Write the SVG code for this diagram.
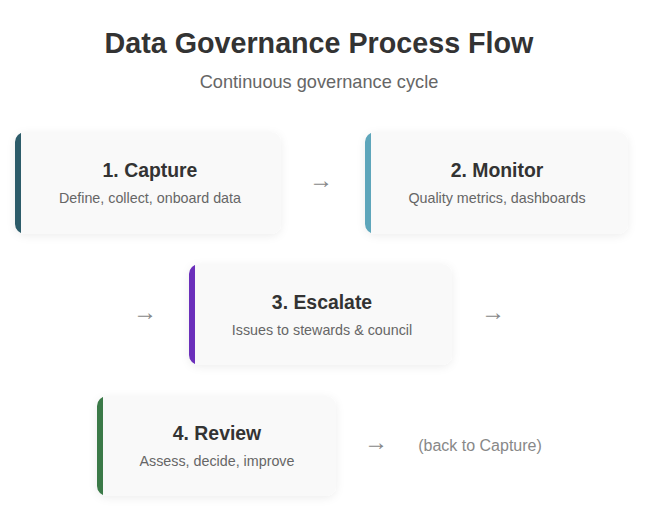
<svg xmlns="http://www.w3.org/2000/svg" width="649" height="517" viewBox="0 0 649 517">
<style>
.title{font-family:"Liberation Sans",Arial,sans-serif;font-weight:bold;font-size:28.7px;fill:#333;text-anchor:middle}
.sub{font-family:"Liberation Sans",Arial,sans-serif;font-size:18.2px;fill:#666;text-anchor:middle}
.ct{font-family:"Liberation Sans",Arial,sans-serif;font-weight:bold;font-size:19.4px;fill:#333;text-anchor:middle}
.cs{font-family:"Liberation Sans",Arial,sans-serif;font-size:14.3px;fill:#666;text-anchor:middle}
.arr{font-family:"Liberation Sans",Arial,sans-serif;font-size:24px;fill:#888;text-anchor:middle}
.back{font-family:"Liberation Sans",Arial,sans-serif;font-size:16px;fill:#888;text-anchor:middle}
.card{fill:#f9f9f9;filter:url(#sh)}
</style>
<defs>
<filter id="sh" x="-10%" y="-20%" width="120%" height="150%">
<feDropShadow dx="0" dy="2" stdDeviation="4" flood-color="#000" flood-opacity="0.07"/>
</filter>
<clipPath id="c1"><rect x="15" y="132" width="266" height="102" rx="10"/></clipPath>
<clipPath id="c2"><rect x="365" y="132" width="263" height="102" rx="10"/></clipPath>
<clipPath id="c3"><rect x="189" y="264" width="263" height="101" rx="10"/></clipPath>
<clipPath id="c4"><rect x="97" y="396" width="239" height="100" rx="10"/></clipPath>
</defs>
<rect width="649" height="517" fill="#fff"/>
<text class="title" x="319" y="53">Data Governance Process Flow</text>
<text class="sub" x="319" y="88">Continuous governance cycle</text>

<g id="node-capture">
<rect class="card" x="15" y="132" width="266" height="102" rx="10"/>
<rect x="15" y="132" width="6" height="102" fill="#2d5c6a" clip-path="url(#c1)"/>
<text class="ct" x="150" y="177">1. Capture</text>
<text class="cs" x="150" y="203">Define, collect, onboard data</text>
</g>
<g id="node-monitor">
<rect class="card" x="365" y="132" width="263" height="102" rx="10"/>
<rect x="365" y="132" width="6" height="102" fill="#5ea6bb" clip-path="url(#c2)"/>
<text class="ct" x="497" y="177">2. Monitor</text>
<text class="cs" x="497" y="203">Quality metrics, dashboards</text>
</g>
<g id="node-escalate">
<rect class="card" x="189" y="264" width="263" height="101" rx="10"/>
<rect x="189" y="264" width="6" height="101" fill="#6b2fbb" clip-path="url(#c3)"/>
<text class="ct" x="322" y="309">3. Escalate</text>
<text class="cs" x="322" y="335">Issues to stewards &amp; council</text>
</g>
<g id="node-review">
<rect class="card" x="97" y="396" width="239" height="100" rx="10"/>
<rect x="97" y="396" width="6" height="100" fill="#3b7a48" clip-path="url(#c4)"/>
<text class="ct" x="217" y="440">4. Review</text>
<text class="cs" x="217" y="466">Assess, decide, improve</text>
</g>
<g id="connectors">
<text class="arr" x="321" y="188">→</text>
<text class="arr" x="145" y="320">→</text>
<text class="arr" x="493" y="320">→</text>
<text class="arr" x="376" y="450">→</text>
<text class="back" x="480" y="451">(back to Capture)</text>
</g>
</svg>
